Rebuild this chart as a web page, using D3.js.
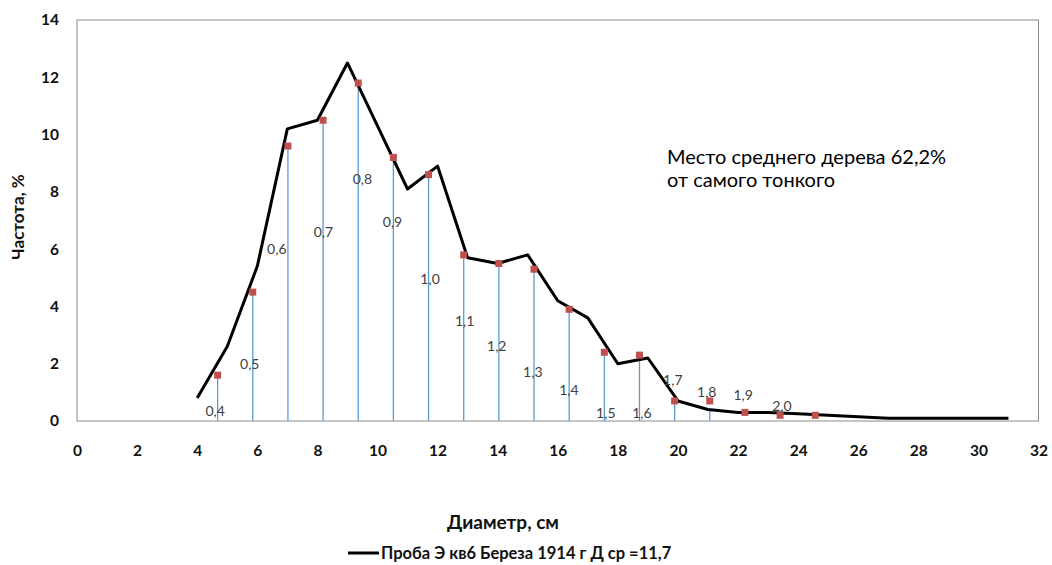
<!DOCTYPE html>
<html>
<head>
<meta charset="utf-8">
<script src="https://cdn.jsdelivr.net/npm/d3@7"></script>
<style>
  body { margin: 0; background: #fff; }
  text { font-family: Lato, "Open Sans", sans-serif; }
</style>
</head>
<body>
<svg id="chart" width="1052" height="565"></svg>
<script>
// diameter distribution (black line)
const diameters = [4, 5, 6, 7, 8, 9, 10, 11, 12, 13, 14, 15, 16, 17, 18, 19, 20, 21, 22, 23, 24, 25, 26, 27, 28, 29, 30, 31];
const frequency = [0.8, 2.6, 5.4, 10.2, 10.5, 12.5, 10.3, 8.1, 8.9, 5.7, 5.5, 5.8, 4.2, 3.6, 2.0, 2.2, 0.7, 0.4, 0.3, 0.3, 0.25, 0.2, 0.15, 0.1, 0.1, 0.1, 0.1, 0.1];

// red markers at relative diameters
const markX = [4.68, 5.85, 7.02, 8.19, 9.36, 10.53, 11.7, 12.87, 14.04, 15.21, 16.38, 17.55, 18.72, 19.89, 21.06, 22.23, 23.4, 24.57];
const markY = [1.6, 4.5, 9.6, 10.5, 11.8, 9.2, 8.6, 5.8, 5.5, 5.3, 3.9, 2.4, 2.3, 0.7, 0.7, 0.3, 0.2, 0.2];

// blue drop lines
const stemX = [4.68, 5.85, 7.02, 8.19, 9.36, 10.53, 11.7, 12.87, 14.04, 15.21, 16.38, 17.55, 18.72, 19.89, 21.06];
const stemTop = [1.6, 4.5, 9.6, 10.5, 11.8, 9.2, 8.6, 5.8, 5.5, 5.3, 3.9, 2.4, 2.3, 0.7, 0.4];

// relative diameter labels
const labText = ["0,4", "0,5", "0,6", "0,7", "0,8", "0,9", "1,0", "1,1", "1,2", "1,3", "1,4", "1,5", "1,6", "1,7", "1,8", "1,9", "2,0"];
const labX = [4.6, 5.75, 6.65, 8.2, 9.5, 10.5, 11.75, 12.9, 13.97, 15.17, 16.37, 17.6, 18.8, 19.83, 20.96, 22.17, 23.46];
const labY = [0.35, 2.0, 6.0, 6.6, 8.45, 6.95, 4.95, 3.5, 2.6, 1.7, 1.08, 0.28, 0.28, 1.43, 1.0, 0.9, 0.52];

const xTicks = d3.range(0, 33, 2);
const yTicks = d3.range(0, 15, 2);

const svg = d3.select("#chart");
const plotLeft = 77, plotRight = 1038.5, plotTop = 20, plotBottom = 421;

const x = d3.scaleLinear().domain([0, 32]).range([plotLeft, plotRight]);
const y = d3.scaleLinear().domain([0, 14]).range([plotBottom, plotTop]);

// plot frame
svg.append("rect")
    .attr("x", plotLeft).attr("y", plotTop)
    .attr("width", plotRight - plotLeft).attr("height", plotBottom - plotTop)
    .attr("fill", "none").attr("stroke", "#8c8c8c").attr("stroke-width", 1);

// tick labels
svg.append("g")
    .attr("transform", `translate(0,${plotBottom})`)
    .call(d3.axisBottom(x).tickValues(xTicks).tickSize(0).tickPadding(24))
    .call(g => g.select(".domain").remove())
    .selectAll("text")
    .attr("font-family", "Lato, sans-serif")
    .attr("font-size", 15.5).attr("font-weight", "bold").attr("fill", "#111");

svg.append("g")
    .attr("transform", `translate(${plotLeft},0)`)
    .call(d3.axisLeft(y).tickValues(yTicks).tickSize(0).tickPadding(18))
    .call(g => g.select(".domain").remove())
    .selectAll("text")
    .attr("font-family", "Lato, sans-serif")
    .attr("font-size", 15.5).attr("font-weight", "bold").attr("fill", "#111");

// blue drop lines
svg.append("g").selectAll("line")
    .data(stemX)
    .enter()
    .append("line")
    .attr("x1", d => x(d)).attr("x2", d => x(d))
    .attr("y1", (d, i) => y(stemTop[i]))
    .attr("y2", y(0))
    .attr("stroke", "#5b9bd5").attr("stroke-width", 1.3);

// main line
const line = d3.line()
    .x((d, i) => x(diameters[i]))
    .y(d => y(d));

svg.append("path")
    .datum(frequency)
    .attr("d", line)
    .attr("fill", "none")
    .attr("stroke", "#000")
    .attr("stroke-width", 3)
    .attr("stroke-linejoin", "round");

// red markers
svg.append("g").selectAll("rect")
    .data(markX)
    .enter()
    .append("rect")
    .attr("x", d => x(d) - 3.5)
    .attr("y", (d, i) => y(markY[i]) - 3.5)
    .attr("width", 7).attr("height", 7)
    .attr("fill", "#c0504d");

// relative diameter labels
svg.append("g").selectAll("text")
    .data(labText)
    .enter()
    .append("text")
    .attr("x", (d, i) => x(labX[i]))
    .attr("y", (d, i) => y(labY[i]))
    .attr("dy", "0.35em")
    .attr("text-anchor", "middle")
    .attr("font-size", 14)
    .attr("fill", "#404040")
    .text(d => d);

// annotation
const note = svg.append("text")
    .attr("x", 667).attr("y", 164)
    .attr("font-family", "'Liberation Sans', Arial, sans-serif")
    .attr("font-size", 20)
    .attr("fill", "#000");
note.append("tspan").attr("x", 667).text("Место среднего дерева 62,2%");
note.append("tspan").attr("x", 667).attr("dy", 23).text("от самого тонкого");

// axis titles
svg.append("text")
    .attr("transform", "translate(24,217) rotate(-90)")
    .attr("text-anchor", "middle")
    .attr("font-size", 17).attr("font-weight", "bold")
    .attr("fill", "#111")
    .text("Частота, %");

svg.append("text")
    .attr("x", 503).attr("y", 529)
    .attr("text-anchor", "middle")
    .attr("font-size", 19).attr("font-weight", "bold")
    .attr("fill", "#111")
    .text("Диаметр, см");

// legend
svg.append("line")
    .attr("x1", 348).attr("x2", 379)
    .attr("y1", 553).attr("y2", 553)
    .attr("stroke", "#000").attr("stroke-width", 3);

svg.append("text")
    .attr("x", 381).attr("y", 559)
    .attr("font-size", 16.5).attr("font-weight", "bold")
    .attr("fill", "#111")
    .text("Проба Э кв6 Береза 1914 г Д ср =11,7");
</script>
</body>
</html>
